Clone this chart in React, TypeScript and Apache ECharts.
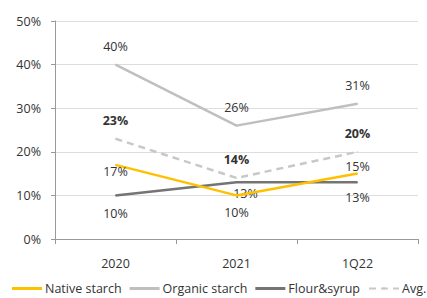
import React, { useEffect, useRef } from "react";
import * as echarts from "echarts";

const categories = ["2020", "2021", "1Q22"];
const nativeStarch = [17, 10, 15];
const organicStarch = [40, 26, 31];
const flourSyrup = [10, 13, 13];
const avg = [23, 14, 20];
const nativePositions = ["bottom", "bottom", "top"];
const nativeOffsets = [[0, -8], [0, 2], [0, 8]];
const flourOffsets = [[0, 3], [9, -4], [0, 0]];

const FONT = "'Open Sans', 'DejaVu Sans', sans-serif";

export default function App() {
  const ref = useRef<HTMLDivElement>(null);
  useEffect(() => {
    const chart = echarts.init(ref.current!, null, { renderer: "svg" });
    const label = (pos: string, bold = false, offset: number[] = [0, 0], distance = 8) => ({
      show: true,
      position: pos,
      distance,
      offset,
      formatter: "{c}%",
      color: "#333",
      fontSize: 12.5,
      fontFamily: FONT,
      fontWeight: bold ? "bold" : "normal",
    });
    const common = { type: "line", symbol: "circle", symbolSize: 1, showSymbol: true };
    chart.setOption({
      animation: false,
      grid: { left: 55, right: 9, top: 21, bottom: 59 },
      legend: {
        top: 282,
        left: 12,
        padding: 0,
        width: 480,
        itemWidth: 30,
        itemHeight: 3,
        itemGap: 8,
        textStyle: { color: "#333", fontSize: 12.5, fontFamily: FONT, padding: [0, 0, 0, -2] },
        data: [
          { name: "Native starch", icon: "rect" },
          { name: "Organic starch", icon: "rect" },
          { name: "Flour&syrup", icon: "rect" },
          { name: "Avg." },
        ],
      },
      xAxis: {
        type: "category",
        data: categories,
        boundaryGap: true,
        axisLine: { lineStyle: { color: "#999" } },
        axisTick: { show: true, length: 5, lineStyle: { color: "#999" } },
        axisLabel: { color: "#333", fontSize: 12.5, fontFamily: FONT, margin: 18 },
      },
      yAxis: {
        type: "value",
        min: 0,
        max: 50,
        interval: 10,
        axisLine: { show: true, lineStyle: { color: "#999" } },
        axisTick: { show: true, length: 4, lineStyle: { color: "#999" } },
        splitLine: { lineStyle: { color: "#ddd" } },
        axisLabel: { color: "#333", fontSize: 12.5, fontFamily: FONT, formatter: "{value}%", margin: 14 },
      },
      series: [
        {
          ...common,
          name: "Native starch",
          data: nativeStarch.map((v, i) => ({ value: v, label: label(nativePositions[i], false, nativeOffsets[i]) })),
          lineStyle: { color: "#FFC000", width: 2.5 },
          itemStyle: { color: "#FFC000" },
          z: 4,
        },
        {
          ...common,
          name: "Organic starch",
          data: organicStarch,
          label: label("top", false, [0, 0], 11),
          lineStyle: { color: "#BFBFBF", width: 2.5 },
          itemStyle: { color: "#BFBFBF" },
        },
        {
          ...common,
          name: "Flour&syrup",
          data: flourSyrup.map((v, i) => ({ value: v, label: label("bottom", false, flourOffsets[i]) })),
          lineStyle: { color: "#747474", width: 2.5 },
          itemStyle: { color: "#747474" },
          z: 3,
        },
        {
          ...common,
          name: "Avg.",
          data: avg,
          label: label("top", true, [0, 0], 11),
          lineStyle: { color: "#C8C8C8", width: 2.5, type: [7, 5] },
          itemStyle: { color: "#C8C8C8" },
          z: 2,
        },
      ],
    });
    return () => chart.dispose();
  }, []);
  return <div ref={ref} style={{ width: 427, height: 298, position: "absolute", left: 0, top: 0 }} />;
}
